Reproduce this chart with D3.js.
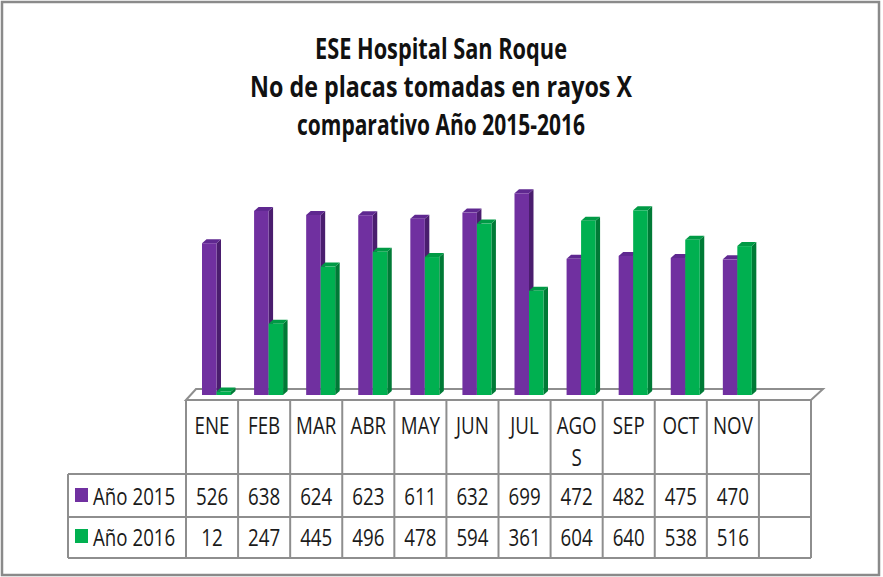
<!DOCTYPE html>
<html><head><meta charset="utf-8">
<script src="https://cdn.jsdelivr.net/npm/d3@7"></script>
<style>html,body{margin:0;padding:0;background:#fff;}svg{display:block;}</style>
</head><body>
<svg id="c" width="883" height="577"></svg>
<script>
const titleLines = ["ESE Hospital San Roque", "No de placas tomadas en rayos X", "comparativo Año 2015-2016"];
const categories = ["ENE","FEB","MAR","ABR","MAY","JUN","JUL","AGOS","SEP","OCT","NOV",""];
const seriesNames = ["Año 2015","Año 2016"];
const values2015 = [526,638,624,623,611,632,699,472,482,475,470];
const values2016 = [12,247,445,496,478,594,361,604,640,538,516];
const colors = {front:["#7030a0","#00b050"], side:["#4a1d6e","#007a36"], top:["#5f2890","#009a45"]};

const svg = d3.select("#c");
const FONT = "'Open Sans', 'Liberation Sans', sans-serif";
const gridC = "#8e8e8e";

// outer border
svg.append("rect").attr("x",2).attr("y",2).attr("width",877).attr("height",573)
  .attr("fill","#fff").attr("stroke","#8a8a8a").attr("stroke-width",2.5);

// title
const titleW = [252, 382, 288];
titleLines.forEach((t,i)=>{
  svg.append("text").attr("x",441).attr("y",59+i*38).attr("text-anchor","middle")
    .attr("font-family",FONT).attr("font-weight","bold").attr("font-size",29)
    .attr("fill","#111").attr("textLength",titleW[i]).attr("lengthAdjust","spacingAndGlyphs").text(t);
});

// scales
const x = d3.scaleBand().domain(d3.range(categories.length)).range([186,811]).padding(0);
const y = d3.scaleLinear().domain([0,700]).range([395,193]);
const bw = 14.5, dx = 4.5, dy = 4;
const floorY = 400, floorDX = 10, floorDY = 11;

// floor
svg.append("path").attr("d",
  `M${x.range()[0]},${floorY} L${x.range()[0]+floorDX},${floorY-floorDY} L${x.range()[1]+floorDX+2},${floorY-floorDY} L${x.range()[1]},${floorY} Z`)
  .attr("fill","#fff").attr("stroke",gridC).attr("stroke-width",2);

// bars
const series = [values2015, values2016];
series.forEach((vals,s)=>{
  const g = svg.append("g");
  vals.forEach((v,i)=>{
    const x0 = x(i) + 16 + s*bw, x1 = x0 + bw;
    const yt = y(v), yb = y(0);
    g.append("path").attr("d",`M${x1},${yt} L${x1+dx},${yt-dy} L${x1+dx},${yb-dy} L${x1},${yb} Z`).attr("fill",colors.side[s]);
    g.append("path").attr("d",`M${x0},${yt} L${x0+dx},${yt-dy} L${x1+dx},${yt-dy} L${x1},${yt} Z`).attr("fill",colors.top[s]);
    g.append("rect").attr("x",x0).attr("y",yt).attr("width",bw).attr("height",yb-yt).attr("fill",colors.front[s]);
  });
});

// table
const hTop = 400, r1 = 474, r2 = 517, r3 = 558, legL = 68;
const tg = svg.append("g").attr("stroke",gridC).attr("stroke-width",2).attr("fill","none");
categories.forEach((c,i)=>{
  tg.append("line").attr("x1",x(i)).attr("x2",x(i)).attr("y1",hTop).attr("y2",r3);
});
tg.append("line").attr("x1",x.range()[1]).attr("x2",x.range()[1]).attr("y1",hTop).attr("y2",r3);
tg.append("line").attr("x1",legL).attr("x2",legL).attr("y1",r1).attr("y2",r3);
[r1,r2,r3].forEach(yy=>tg.append("line").attr("x1",legL).attr("x2",x.range()[1]).attr("y1",yy).attr("y2",yy));

function txt(xc, yb, t, anchor){
  svg.append("text").attr("transform",`translate(${xc},${yb}) scale(0.78,1)`)
    .attr("text-anchor",anchor||"middle").attr("font-family",FONT).attr("font-size",24)
    .attr("fill","#1a1a1a").text(t);
}
categories.forEach((c,i)=>{
  const xc = x(i)+x.bandwidth()/2;
  if (c.length>3){ txt(xc,434,c.slice(0,3)); txt(xc,466,c.slice(3)); }
  else txt(xc,434,c);
});
const rowBase = [505,546];
series.forEach((vals,s)=>{
  svg.append("rect").attr("x",75).attr("y",rowBase[s]-17).attr("width",13).attr("height",14).attr("fill",colors.front[s]);
  txt(93,rowBase[s],seriesNames[s],"start");
  vals.forEach((v,i)=>txt(x(i)+x.bandwidth()/2,rowBase[s],String(v)));
});
</script>
</body></html>
